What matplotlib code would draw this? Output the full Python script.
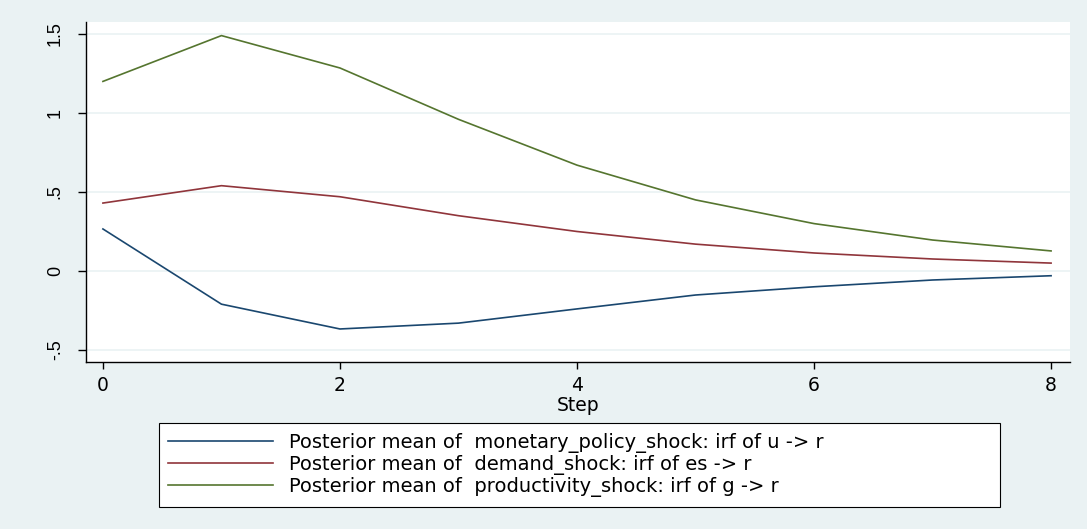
import matplotlib.pyplot as plt
import numpy as np

plt.rcParams['font.family'] = ['DejaVu Sans']

steps = np.arange(9)
monetary = [0.266, -0.21, -0.367, -0.33, -0.24, -0.152, -0.10, -0.057, -0.03]
demand = [0.43, 0.54, 0.47, 0.35, 0.25, 0.17, 0.114, 0.076, 0.05]
productivity = [1.20, 1.49, 1.285, 0.96, 0.67, 0.45, 0.30, 0.196, 0.127]
labels = ["Posterior mean of  monetary_policy_shock: irf of u -> r",
          "Posterior mean of  demand_shock: irf of es -> r",
          "Posterior mean of  productivity_shock: irf of g -> r"]
colors = ['#1a476f', '#90353b', '#55752f']

bg = '#eaf2f3'
fig = plt.figure(figsize=(10.87, 5.29), dpi=100, facecolor=bg)
ax = fig.add_axes([0.0791, 0.3157, 0.9053, 0.6427])

for y, c, lab in zip([monetary, demand, productivity], colors, labels):
    ax.plot(steps, y, color=c, lw=1.2, label=lab)

ax.set_xlim(-0.143, 8.16)
ax.set_ylim(-0.576, 1.576)
ax.set_xticks([0, 2, 4, 6, 8])
ax.set_yticks([-0.5, 0, 0.5, 1, 1.5])
ax.set_yticklabels(['-.5', '0', '.5', '1', '1.5'], rotation=90, va='center',
                   fontsize=13, family='Liberation Sans')
ax.tick_params(axis='x', labelsize=13.5, length=5, width=1, pad=5)
ax.tick_params(axis='y', length=6, width=1, pad=10)
ax.grid(axis='y', color=bg, lw=1.2)
ax.set_axisbelow(True)
for s in ['top', 'right']:
    ax.spines[s].set_visible(False)
ax.spines['left'].set_linewidth(1)
ax.spines['bottom'].set_linewidth(1)
ax.set_xlabel('Step', fontsize=13.5, labelpad=1)

leg = ax.legend(loc='lower left', bbox_to_anchor=(0.146, 0.0416, 0.774, 0.161),
                bbox_transform=fig.transFigure, mode='expand', fontsize=14,
                handlelength=5.4, handletextpad=0.8, labelspacing=0.12,
                borderpad=0.5, fancybox=False, edgecolor='black',
                framealpha=1, borderaxespad=0)
leg.get_frame().set_linewidth(0.8)

plt.savefig('out.png', dpi=100, facecolor=bg)
